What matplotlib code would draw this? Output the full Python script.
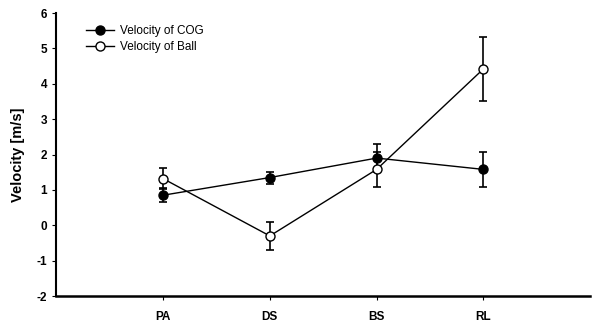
import matplotlib
matplotlib.use("Agg")
import matplotlib.pyplot as plt
from matplotlib.lines import Line2D

categories = ["PA", "DS", "BS", "RL"]
cog = [0.85, 1.35, 1.90, 1.58]
cog_err = [0.20, 0.17, 0.40, 0.50]
ball = [1.32, -0.30, 1.58, 4.42]
ball_err = [0.30, 0.40, 0.50, 0.90]
yticks = [-2, -1, 0, 1, 2, 3, 4, 5, 6]

plt.rcParams['font.family'] = ['Liberation Sans', 'DejaVu Sans']
fig = plt.figure(figsize=(5.92, 3.25), dpi=100)
ax = fig.add_axes([0.095, 0.089, 0.902, 0.871])

x = list(range(1, len(categories) + 1))
ax.errorbar(x, cog, yerr=cog_err, color='black', lw=1.0, marker='o', ms=6.5,
            mfc='black', mec='black', capsize=3, elinewidth=1.2, capthick=1.2,
            zorder=3)
ax.errorbar(x, ball, yerr=ball_err, color='black', lw=1.0, marker='o', ms=6.5,
            mfc='white', mec='black', capsize=3, elinewidth=1.2, capthick=1.2,
            zorder=4)

ax.set_xlim(0, 5)
ax.set_ylim(-2, 6)
ax.set_xticks(x)
ax.set_xticklabels(categories, fontweight='bold', fontsize=8.5)
ax.set_yticks(yticks)
ax.set_yticklabels([str(v) for v in yticks], fontweight='bold', fontsize=8.5)
ax.tick_params(axis='both', length=3, width=0.8, direction='out')
ax.tick_params(axis='x', pad=8)
ax.spines['top'].set_visible(False)
ax.spines['right'].set_visible(False)
ax.spines['left'].set_linewidth(1.5)
ax.spines['bottom'].set_linewidth(1.8)
ax.set_ylabel('Velocity [m/s]', fontweight='bold', fontsize=10.5, labelpad=8)

handles = [
    Line2D([], [], color='black', lw=1.0, marker='o', ms=6.5, mfc='black', mec='black'),
    Line2D([], [], color='black', lw=1.0, marker='o', ms=6.5, mfc='white', mec='black'),
]
ax.legend(handles, ['Velocity of COG', 'Velocity of Ball'], loc='upper left',
          bbox_to_anchor=(0.035, 0.995), frameon=False, fontsize=8.5,
          handlelength=2.4, labelspacing=0.35, handletextpad=0.5)

fig.savefig('out.png', dpi=100)
